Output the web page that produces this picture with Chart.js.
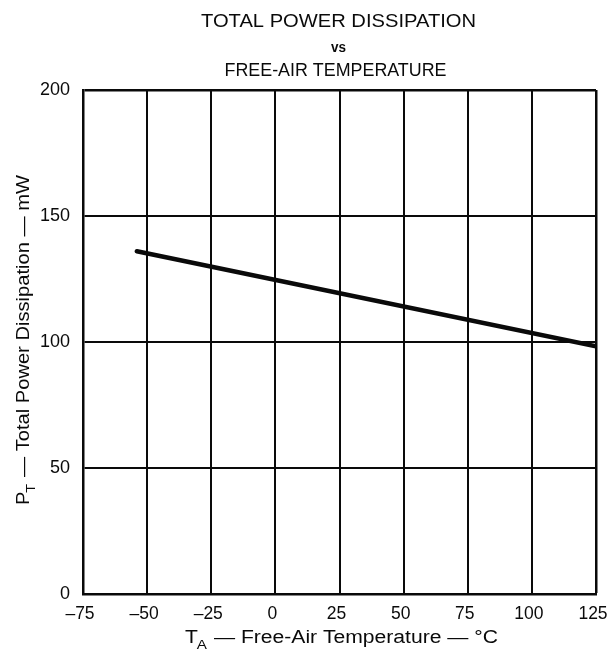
<!DOCTYPE html>
<html>
<head>
<meta charset="utf-8">
<script src="https://cdn.jsdelivr.net/npm/chart.js@4/dist/chart.umd.min.js"></script>
<style>
  html, body { margin: 0; padding: 0; background: #fff; }
  #wrap { width: 609px; height: 651px; }
</style>
</head>
<body>
<div id="wrap"><canvas id="c" width="609" height="651"></canvas></div>
<script>
// Free-air temperature (°C) and total power dissipation (mW)
const temperatures = [-54, 125];
const powerMilliwatts = [136.0, 98.3];

// Axis tick values
const xTickValues = [-75, -50, -25, 0, 25, 50, 75, 100, 125];
const yTickValues = [0, 50, 100, 150, 200];

// Text
const titleLines = ['TOTAL POWER DISSIPATION', 'vs', 'FREE-AIR TEMPERATURE'];
const xAxisTitle = { symbol: 'T', sub: 'A', rest: ' \u2014 Free-Air Temperature \u2014 \u00B0C' };
const yAxisTitle = { symbol: 'P', sub: 'T', rest: ' \u2014 Total Power Dissipation \u2014 mW' };

const FONT = '"Liberation Sans", Arial, sans-serif';
const INK = '#0a0a0a';

const points = temperatures.map((t, i) => ({ x: t, y: powerMilliwatts[i] }));

// Draws a single line of text centred on x, stretched to a set width.
function drawStretched(ctx, text, x, y, width, font) {
  ctx.font = font;
  const w = ctx.measureText(text).width;
  ctx.save();
  ctx.translate(x, y);
  ctx.scale(width / w, 1);
  ctx.textAlign = 'center';
  ctx.textBaseline = 'alphabetic';
  ctx.fillText(text, 0, 0);
  ctx.restore();
}

// Draws "X_sub rest" with a real subscript, centred on the origin, stretched to a set width.
function drawSubscriptLabel(ctx, label, size, width) {
  const big = `${size}px ${FONT}`;
  const small = `${Math.round(size * 0.72)}px ${FONT}`;
  ctx.font = big;
  const w1 = ctx.measureText(label.symbol).width;
  const w3 = ctx.measureText(label.rest).width;
  ctx.font = small;
  const w2 = ctx.measureText(label.sub).width;
  const total = w1 + w2 + w3;
  ctx.save();
  ctx.scale(width / total, 1);
  let x = -total / 2;
  ctx.textAlign = 'left';
  ctx.textBaseline = 'alphabetic';
  ctx.font = big;
  ctx.fillText(label.symbol, x, 0);
  x += w1;
  ctx.font = small;
  ctx.fillText(label.sub, x - 1, size * 0.32);
  x += w2;
  ctx.font = big;
  ctx.fillText(label.rest, x, 0);
  ctx.restore();
}

const textPlugin = {
  id: 'chartText',
  afterDraw(chart) {
    const { ctx, chartArea } = chart;
    const cx = (chartArea.left + chartArea.right) / 2;
    const cy = (chartArea.top + chartArea.bottom) / 2;
    ctx.save();
    ctx.fillStyle = INK;

    // Title block
    drawStretched(ctx, titleLines[0], cx - 1, 27, 275, `18px ${FONT}`);
    drawStretched(ctx, titleLines[1], cx - 1, 52, 15, `bold 14px ${FONT}`);
    drawStretched(ctx, titleLines[2], cx - 4, 76, 222, `18px ${FONT}`);

    // X axis title
    ctx.save();
    ctx.translate(cx + 2, 643);
    drawSubscriptLabel(ctx, xAxisTitle, 18, 313);
    ctx.restore();

    // Y axis title (rotated)
    ctx.save();
    ctx.translate(29, cy - 2);
    ctx.rotate(-Math.PI / 2);
    drawSubscriptLabel(ctx, yAxisTitle, 18, 330);
    ctx.restore();

    ctx.restore();
  }
};

const fmt = v => (v < 0 ? '\u2013' + Math.abs(v) : String(v));

new Chart(document.getElementById('c'), {
  type: 'scatter',
  data: {
    datasets: [{
      data: points,
      showLine: true,
      borderColor: INK,
      borderWidth: 4.5,
      borderCapStyle: 'round',
      pointRadius: 0,
      pointHoverRadius: 0,
      tension: 0
    }]
  },
  options: {
    responsive: false,
    animation: false,
    devicePixelRatio: 1,
    layout: { padding: { top: 90, right: 13, left: 0, bottom: 0 } },
    plugins: { legend: { display: false }, tooltip: { enabled: false }, title: { display: false } },
    scales: {
      x: {
        type: 'linear',
        min: xTickValues[0],
        max: xTickValues[xTickValues.length - 1],
        afterBuildTicks: s => { s.ticks = xTickValues.map(v => ({ value: v })); },
        afterFit: s => { s.height = 57; s.paddingLeft = 0; s.paddingRight = 0; },
        ticks: { color: INK, font: { family: FONT, size: 17.5 }, padding: 10, labelOffset: -3, callback: fmt, maxRotation: 0 },
        grid: { color: INK, lineWidth: c => (c.index === xTickValues.length - 1 ? 2.5 : 2), drawTicks: false },
        border: { display: true, color: INK, width: 2.5 }
      },
      y: {
        type: 'linear',
        min: yTickValues[0],
        max: yTickValues[yTickValues.length - 1],
        afterBuildTicks: s => { s.ticks = yTickValues.map(v => ({ value: v })); },
        afterFit: s => { s.width = 83; s.paddingTop = 0; s.paddingBottom = 0; },
        ticks: { color: INK, font: { family: FONT, size: 18 }, padding: 13, callback: fmt },
        grid: { color: INK, lineWidth: c => (c.index === yTickValues.length - 1 ? 2.5 : 2), drawTicks: false },
        border: { display: true, color: INK, width: 2.5 }
      }
    }
  },
  plugins: [textPlugin]
});
</script>
</body>
</html>
